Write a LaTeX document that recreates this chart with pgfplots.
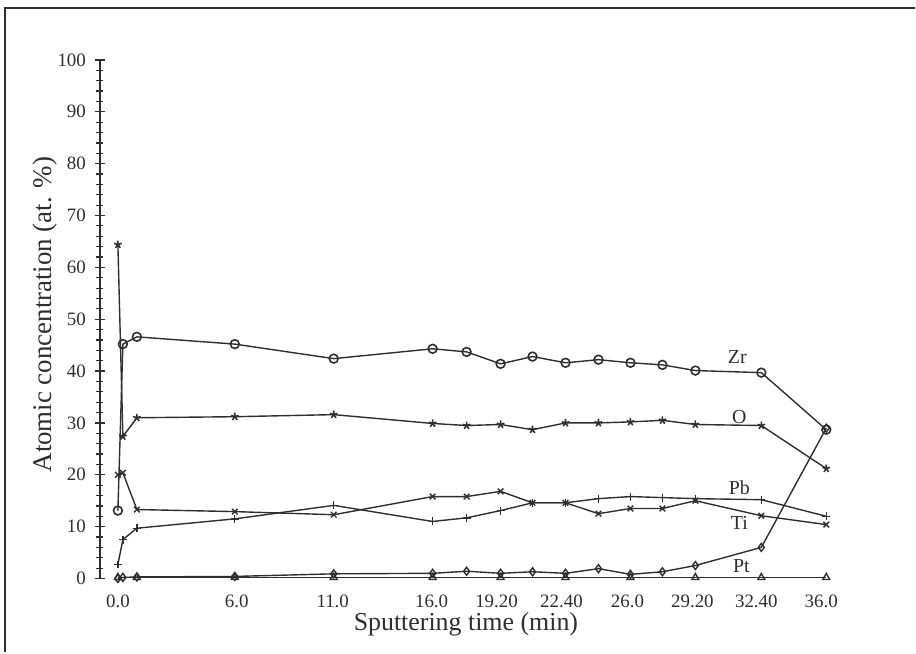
\documentclass[border=0pt]{standalone}
\usepackage{pgfplots}
\pgfplotsset{compat=1.18}
\usepackage{fontspec}
\setmainfont{Liberation Serif}
\definecolor{ink}{HTML}{2E2E2E}
\begin{document}
\begin{tikzpicture}
\begin{axis}[
  scale only axis,
  width=370bp, height=259.5bp,
  xmin=100, xmax=840, ymin=0, ymax=100,
  clip=false,
  axis y line=left,
  axis x line=bottom,
  x axis line style={draw=none},
  y axis line style={-, ink, line width=0.7pt},
  xtick={118,237,333,432,497,562,628,693,757,822},
  xticklabels={0.0,6.0,11.0,16.0,19.20,22.40,26.0,29.20,32.40,36.0},
  major x tick style={draw=none},
  ytick={0,10,...,100},
  minor y tick num=4,
  tick align=center,
  major tick length=5bp,
  minor tick length=3.5bp,
  y tick style={ink, line width=0.6pt},
  /pgf/number format/assume math mode=true,
  tick label style={font=\fontsize{9.5}{11}\selectfont, text=ink},
  xticklabel style={yshift=-2bp},
  yticklabel style={xshift=-1bp},
  xlabel={Sputtering time (min)},
  ylabel={Atomic concentration (at. \%)},
  xlabel style={at={(axis description cs:0.495,-0.089)}, anchor=center, font=\fontsize{13}{15}\selectfont, text=ink},
  ylabel style={at={(axis description cs:-0.074,0.509)}, anchor=center, rotate=0, font=\fontsize{13.5}{15}\selectfont, text=ink},
  every axis plot/.append style={ink, line width=0.7pt},
]
% Zr
\addplot[mark=o, mark size=2.2bp, mark options={line width=0.8pt}] coordinates {
(118,13.1) (123,45.2) (137,46.6) (235,45.2) (334,42.4) (433,44.3) (467,43.7) (501,41.4)
(533,42.8) (566,41.6) (599,42.2) (631,41.6) (663,41.2) (696,40.1) (762,39.7) (827,28.7)};
% O
\addplot[mark=star, mark size=2bp, mark options={line width=0.8pt}] coordinates {
(118,64.4) (123,27.4) (137,31.0) (235,31.2) (334,31.6) (433,29.9) (467,29.5) (501,29.7)
(533,28.7) (566,30.0) (599,30.0) (631,30.2) (663,30.5) (696,29.7) (762,29.5) (827,21.2)};
% Ti
\addplot[mark=x, mark size=2bp] coordinates {
(118,20.0) (123,20.4) (137,13.3) (235,12.9) (334,12.3) (433,15.8) (467,15.8) (501,16.8)
(533,14.6) (566,14.6) (599,12.5) (631,13.5) (663,13.5) (696,15.0) (762,12.1) (827,10.4)};
% Pb
\addplot[mark=+, mark size=2bp] coordinates {
(118,2.7) (123,7.5) (137,9.7) (235,11.5) (334,14.1) (433,11.0) (467,11.7) (501,13.1)
(533,14.6) (566,14.6) (599,15.4) (631,15.8) (663,15.6) (696,15.4) (762,15.2) (827,12.0)};
% Pt
\addplot[mark=diamond, mark size=2bp] coordinates {
(118,0.0) (123,0.2) (137,0.3) (235,0.4) (334,0.9) (433,1.0) (467,1.4) (501,1.0)
(533,1.3) (566,1.0) (599,1.9) (631,0.8) (663,1.3) (696,2.5) (762,6.0) (827,29.0)};
% base line
\addplot[mark=triangle, mark size=2bp] coordinates {
(118,0.2) (137,0.2) (235,0.2) (334,0.2) (433,0.2) (501,0.2) (566,0.2) (631,0.2)
(696,0.2) (762,0.2) (827,0.2)};
% curve labels
\node[font=\fontsize{10}{12}\selectfont, text=ink] at (axis cs:738,42.8) {Zr};
\node[font=\fontsize{10}{12}\selectfont, text=ink] at (axis cs:740,31.2) {O};
\node[font=\fontsize{10}{12}\selectfont, text=ink] at (axis cs:740,17.5) {Pb};
\node[font=\fontsize{10}{12}\selectfont, text=ink] at (axis cs:740,10.8) {Ti};
\node[font=\fontsize{10}{12}\selectfont, text=ink] at (axis cs:742,2.4) {Pt};
% scan frame
\draw[ink, line width=0.8pt] (axis cs:5,-14.26) -- (axis cs:5,110.0) -- (axis cs:916,110.0);
\path (axis cs:0,-14.26) rectangle (axis cs:916,111.56);
\end{axis}
\end{tikzpicture}
\end{document}
